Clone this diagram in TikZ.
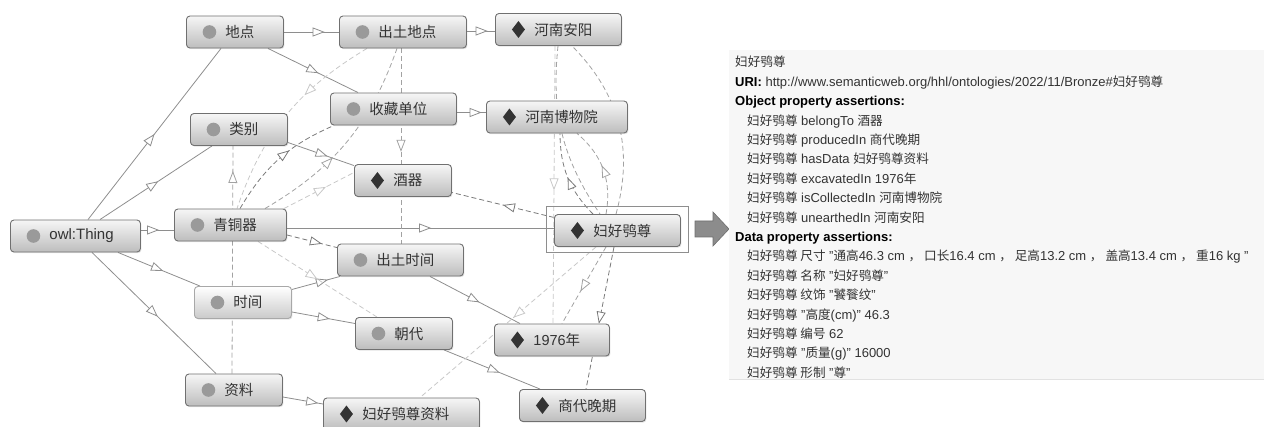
\documentclass[tikz,border=0pt]{standalone}
\usepackage{fontspec}
\setmainfont{Liberation Sans}
\newfontfamily\cjkfont{Noto Sans CJK SC}
\usetikzlibrary{arrows.meta,decorations.markings,calc,backgrounds,shadows}
\newcommand{\zh}[1]{{\cjkfont #1}}
\newcommand{\pz}[1]{{\cjkfont\fontsize{12.6pt}{15pt}\selectfont #1}}
\definecolor{boxtop}{HTML}{F6F6F6}
\definecolor{boxbot}{HTML}{BDBDBD}
\definecolor{boxline}{HTML}{707070}
\definecolor{fadeline}{HTML}{A8A8A8}
\definecolor{circfill}{HTML}{9A9A9A}
\definecolor{diafill}{HTML}{333333}
\definecolor{txt}{HTML}{333333}
\definecolor{esolid}{HTML}{8E8E8E}
\definecolor{edark}{HTML}{7A7A7A}
\definecolor{emid}{HTML}{A2A2A2}
\definecolor{elight}{HTML}{C8C8C8}
\definecolor{panelbg}{HTML}{F7F7F7}
\definecolor{panelline}{HTML}{E2E2E2}
\definecolor{arrfill}{HTML}{8C8C8C}
\definecolor{arrline}{HTML}{6E6E6E}
\begin{document}
\begin{tikzpicture}[x=1pt,y=-1pt,
  box/.style={rounded corners=3.5pt, draw=boxline, line width=0.9pt,
    top color=boxtop, bottom color=boxbot, minimum height=32pt,
    inner xsep=0pt, inner ysep=0pt, text width=#1, align=left, anchor=west,
    text=txt, font=\cjkfont\fontsize{14.5pt}{17pt}\selectfont,
    execute at begin node={\hspace*{39pt}},
    drop shadow={shadow xshift=1pt, shadow yshift=-1.2pt, opacity=0.22}},
  cls/.style={box=#1, path picture={\fill[circfill] ([xshift=23pt]path picture bounding box.west) circle (6.8pt);}},
  ind/.style={box=#1, path picture={\fill[diafill, sharp corners] ([xshift=23pt,yshift=8.5pt]path picture bounding box.west) -- ++(6.5pt,-8.5pt) -- ++(-6.5pt,-8.5pt) -- ++(-6.5pt,8.5pt) -- cycle;}},
  marr/.style={postaction={decorate,decoration={markings,mark=at position #1 with {\arrow{Triangle[length=12pt,width=9pt,fill=white]}}}}},
  sub/.style={color=esolid, line width=0.8pt},
  pd/.style={color=edark, line width=0.8pt, dash pattern=on 5pt off 3pt},
  pm/.style={color=emid, line width=0.8pt, dash pattern=on 5pt off 3pt},
  pl/.style={color=elight, line width=0.8pt, dash pattern=on 5pt off 3pt},
  ptxt/.style={anchor=base west, inner sep=0pt, text=txt, font=\fontsize{13pt}{15pt}\selectfont},
  phead/.style={ptxt, text=black, font=\fontsize{13pt}{15pt}\selectfont\bfseries}
]
\useasboundingbox (0,0) rectangle (1264,427);

% ---------- nodes ----------
\node[cls=97pt]  (dd)    at (186,32)    {地点};
\node[cls=127pt] (ctdd)  at (339,32)    {出土地点};
\node[ind=126pt] (hnay)  at (495,29.5)  {河南安阳};
\node[cls=97pt]  (lb)    at (190,129.5) {类别};
\node[cls=126pt] (cdw)   at (330,109)   {收藏单位};
\node[ind=141pt] (hnbwy) at (486,117)   {河南博物院};
\node[ind=97pt]  (jq)    at (354,180.5) {酒器};
\node[cls=130pt] (owl)   at (10,236)    {{\rmfamily\fontsize{15pt}{17pt}\selectfont owl:Thing}};
\node[cls=112pt] (tqq)   at (174,225)   {青铜器};
\node[ind=126pt] (fh)    at (554,230.5) {妇好鸮尊};
\node[cls=126pt] (ctsj)  at (337,260)   {出土时间};
\node[cls=97pt, draw=fadeline, top color=white, bottom color=boxbot!80] (sj) at (194,302.5) {时间};
\node[cls=97pt]  (cd)    at (355,333.5) {朝代};
\node[ind=115pt] (n1976) at (494,340)   {{\rmfamily 1976}年};
\node[cls=97pt]  (zl)    at (185,390)   {资料};
\node[ind=156pt] (fhzl)  at (323,414)   {妇好鸮尊资料};
\node[ind=126pt] (sdwq)  at (519,405.5) {商代晚期};

\node[draw=esolid, line width=0.9pt, minimum width=142pt, minimum height=46pt, inner sep=0pt, anchor=north west] (fhframe) at (546,206) {};

% ---------- edges ----------
\begin{pgfonlayer}{background}
% subclass (solid)
\draw[sub, marr=0.5]  ($(owl.north west)+(78,0)$) -- ($(dd.south west)+(35,0)$);
\draw[sub, marr=0.52] ($(owl.north west)+(90,0)$) -- ($(lb.south west)+(22,0)$);
\draw[sub, marr=0.55] ($(owl.east)+(0,-6)$) -- ($(tqq.west)+(0,5)$);
\draw[sub, marr=0.55] ($(owl.south west)+(108,0)$) -- ($(sj.north west)+(6,0)$);
\draw[sub, marr=0.53] ($(owl.south west)+(82,0)$) -- ($(zl.north west)+(31,0)$);
\draw[sub, marr=0.74] (dd.east) -- (ctdd.west);
\draw[sub, marr=0.56] ($(dd.south west)+(82,0)$) -- ($(cdw.north west)+(28,0)$);
\draw[sub, marr=0.74] ($(ctdd.east)+(0,-1)$) -- ($(hnay.west)+(0,1.5)$);
\draw[sub, marr=0.85] ($(cdw.east)+(0,3.5)$) -- ($(hnbwy.west)+(0,-4.5)$);
\draw[sub, marr=0.6]  ($(lb.east)+(0,13)$) -- ($(jq.north west)+(0,1.5)$);
\draw[sub, marr=0.54] ($(tqq.east)+(0,3)$) -- ($(fh.west)+(0,-2.5)$);
\draw[sub, marr=0.75] ($(sj.east)+(0,-13)$) -- ($(ctsj.south west)+(3,0)$);
\draw[sub, marr=0.6]  ($(sj.east)+(0,9.5)$) -- ($(cd.west)+(0,-10)$);
\draw[sub, marr=0.55] ($(ctsj.south west)+(93,0)$) -- ($(n1976.north west)+(26,0)$);
\draw[sub, marr=0.58] ($(cd.south west)+(89,0)$) -- ($(sdwq.north west)+(21,0)$);
\draw[sub, marr=0.88] ($(zl.east)+(0,7)$) -- ($(fhzl.west)+(0,-10)$);
% properties (dashed)
\draw[pd, marr=0.5]  ($(fh.west)+(0,-13)$) -- ($(jq.east)+(0,12)$);
\draw[pm, marr=0.89] ($(zl.north west)+(47,0)$) -- ($(lb.south west)+(43,0)$);
\draw[pd, marr=0.6]  ($(tqq.north west)+(66,0)$) to[bend left=18] ($(cdw.south west)+(4,0)$);
\draw[pm, marr=0.4]  ($(tqq.north west)+(91,0)$) to[bend right=20] ($(ctdd.south west)+(58,0)$);
\draw[pl, marr=0.37] ($(ctdd.south west)+(28,0)$) to[bend right=20] ($(tqq.north west)+(63,0)$);
\draw[pl, marr=0.6]  ($(tqq.north east)+(-3,0)$) -- ($(jq.west)+(0,-8)$);
\draw[pd, marr=0.7]  ($(tqq.east)+(0,10)$) -- ($(ctsj.north west)+(0,4)$);
\draw[pl, marr=0.5]  ($(tqq.south west)+(84,0)$) -- ($(cd.north west)+(22,0)$);
\draw[pm, marr=0.53] ($(ctdd.south west)+(62,0)$) -- ($(ctsj.north west)+(64,0)$);
\draw[pl, marr=0.52] ($(hnay.south west)+(60,0)$) -- ($(n1976.north west)+(59,0)$);
\draw[pm] ($(hnay.south west)+(63,0)$) to[bend right=20] ($(fh.north west)+(46,0)$);
\draw[pd, marr=0.5]  ($(fh.north west)+(39,0)$) to[bend left=22] ($(hnbwy.south west)+(74,0)$);
\draw[pm, marr=0.55] ($(fh.north west)+(52,0)$) to[bend right=30] ($(hnbwy.south west)+(91,0)$);
\draw[pm] ($(fh.north west)+(62,0)$) to[bend right=30] ($(hnay.south west)+(77,0)$);
\draw[pd, marr=0.54] ($(fh.south west)+(60,0)$) -- ($(sdwq.north west)+(67,0)$);
\draw[pm, marr=0.58] ($(fh.south west)+(52,0)$) -- ($(n1976.north west)+(68,0)$);
\draw[pl, marr=0.47] ($(fh.south west)+(42,0)$) -- ($(fhzl.north west)+(97,0)$);
\end{pgfonlayer}

% ---------- big arrow ----------
\filldraw[fill=arrfill, draw=arrline, line width=0.6pt]
  (695,221) -- (713,221) -- (713,212) -- (729,229) -- (713,246) -- (713,237) -- (695,237) -- cycle;

% ---------- right panel ----------
\fill[panelbg] (729,50) rectangle (1264,379);
\draw[panelline, line width=0.8pt] (729,379) -- (1264,379);

\node[ptxt]  (p0)  at (735,67)    {\pz{妇好鸮尊}};
\node[ptxt]  (p1)  at (735,86.4)  {\textbf{\textcolor{black}{URI:}} http://www.semanticweb.org/hhl/ontologies/2022/11/Bronze\#\pz{妇好鸮尊}};
\node[phead] (p2)  at (735,105.8) {Object property assertions:};
\node[ptxt]  (p3)  at (747,125.2) {\pz{妇好鸮尊} belongTo \pz{酒器}};
\node[ptxt]  (p4)  at (747,144.6) {\pz{妇好鸮尊} producedIn \pz{商代晚期}};
\node[ptxt]  (p5)  at (747,164)   {\pz{妇好鸮尊} hasData \pz{妇好鸮尊资料}};
\node[ptxt]  (p6)  at (747,183.4) {\pz{妇好鸮尊} excavatedIn 1976\pz{年}};
\node[ptxt]  (p7)  at (747,202.8) {\pz{妇好鸮尊} isCollectedIn \pz{河南博物院}};
\node[ptxt]  (p8)  at (747,222.2) {\pz{妇好鸮尊} unearthedIn \pz{河南安阳}};
\node[phead] (p9)  at (735,241.6) {Data property assertions:};
\node[ptxt]  (p10) at (747,261)   {\pz{妇好鸮尊 尺寸} "\pz{通高}46.3 cm \pz{，}\hspace{3pt}\pz{口长}16.4 cm \pz{，}\hspace{3pt}\pz{足高}13.2 cm \pz{，}\hspace{3pt}\pz{盖高}13.4 cm \pz{，}\hspace{3pt}\pz{重}16 kg "};
\node[ptxt]  (p11) at (747,280.4) {\pz{妇好鸮尊 名称} "\pz{妇好鸮尊}"};
\node[ptxt]  (p12) at (747,299.8) {\pz{妇好鸮尊 纹饰} "\pz{饕餮纹}"};
\node[ptxt]  (p13) at (747,319.2) {\pz{妇好鸮尊} "\pz{高度}(cm)" 46.3};
\node[ptxt]  (p14) at (747,338.6) {\pz{妇好鸮尊 编号} 62};
\node[ptxt]  (p15) at (747,358)   {\pz{妇好鸮尊} "\pz{质量}(g)" 16000};
\node[ptxt]  (p16) at (747,377.4) {\pz{妇好鸮尊 形制} "\pz{尊}"};
\end{tikzpicture}
\end{document}
